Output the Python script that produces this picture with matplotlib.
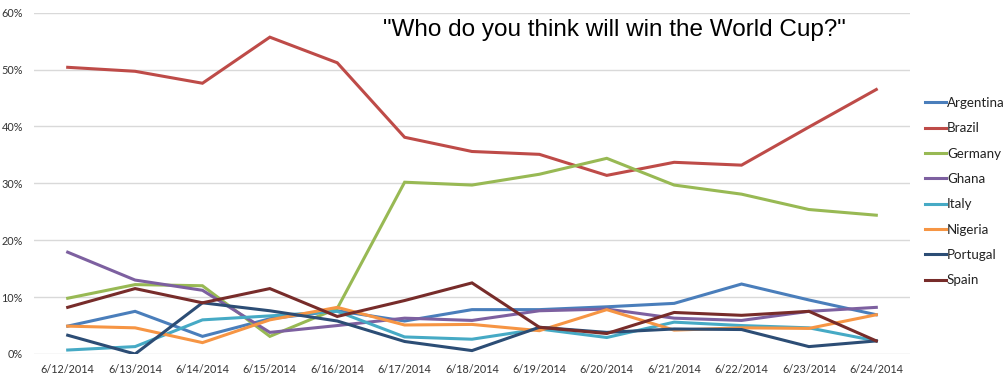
import matplotlib
matplotlib.use("Agg")
import matplotlib.pyplot as plt
from matplotlib.ticker import FuncFormatter

dates = ["6/12/2014", "6/13/2014", "6/14/2014", "6/15/2014", "6/16/2014",
         "6/17/2014", "6/18/2014", "6/19/2014", "6/20/2014", "6/21/2014",
         "6/22/2014", "6/23/2014", "6/24/2014"]

argentina = [4.9, 7.5, 3.1, 6.2, 7.6, 5.8, 7.8, 7.8, 8.3, 8.9, 12.3, 9.5, 6.9]
brazil    = [50.4, 49.7, 47.6, 55.7, 51.2, 38.1, 35.6, 35.1, 31.4, 33.7, 33.2, 39.9, 46.5]
germany   = [9.8, 12.2, 12.0, 3.1, 8.0, 30.2, 29.7, 31.6, 34.4, 29.7, 28.1, 25.4, 24.4]
ghana     = [17.9, 13.0, 11.2, 3.8, 5.0, 6.3, 5.9, 7.6, 7.9, 6.3, 5.9, 7.5, 8.2]
italy     = [0.7, 1.3, 6.0, 6.7, 7.5, 3.0, 2.6, 4.4, 2.9, 5.6, 5.0, 4.6, 2.3]
nigeria   = [4.9, 4.6, 2.0, 6.0, 8.2, 5.1, 5.2, 4.1, 7.8, 4.2, 4.6, 4.5, 6.9]
portugal  = [3.3, 0.0, 9.0, 7.6, 5.8, 2.2, 0.6, 4.7, 3.8, 4.4, 4.3, 1.3, 2.3]
spain     = [8.2, 11.5, 9.0, 11.5, 6.6, 9.4, 12.5, 4.7, 3.6, 7.3, 6.8, 7.5, 2.3]

series_names = ["Argentina", "Brazil", "Germany", "Ghana", "Italy", "Nigeria", "Portugal", "Spain"]
series_values = [argentina, brazil, germany, ghana, italy, nigeria, portugal, spain]
colors = ["#4A7EBB", "#BE4B48", "#98B954", "#7D60A0", "#46AAC5", "#F69544", "#2C4D75", "#772C2A"]

title = '"Who do you think will win the World Cup?"'
yticks = [0, 10, 20, 30, 40, 50, 60]

plt.rcParams['font.family'] = ['Lato', 'DejaVu Sans']

fig = plt.figure(figsize=(10.08, 3.80), dpi=100)
ax = fig.add_axes([34/1008, 1 - 354/380, (910 - 34)/1008, (354 - 12.7)/380])

x = list(range(len(dates)))
for name, vals, c in zip(series_names, series_values, colors):
    ax.plot(x, vals, color=c, lw=2.2, label=name, solid_joinstyle='miter', zorder=3)

ax.set_xlim(-0.5, len(dates) - 0.5)
ax.set_ylim(0, 60)
ax.set_yticks(yticks)
ax.yaxis.set_major_formatter(FuncFormatter(lambda v, p: f"{int(v)}%"))
ax.set_xticks(x)
ax.set_xticklabels(dates)
ax.grid(axis='y', color='#D9D9D9', lw=1.0, zorder=0)
ax.tick_params(axis='both', length=0, colors='#333333')
ax.tick_params(axis='y', labelsize=7.8, pad=8)
ax.tick_params(axis='x', labelsize=7.8, pad=7)
for s in ax.spines.values():
    s.set_visible(False)

fig.text(383/1008, 1 - 30/380, title, fontsize=17.5, family='Liberation Sans',
         ha='left', va='center', color='black')

leg = fig.legend(loc='upper left', bbox_to_anchor=(925/1008, 1 - 97/380),
                 frameon=False, fontsize=9.6, handlelength=1.6, handletextpad=0.05,
                 labelspacing=1.0, borderaxespad=0, borderpad=0)
for t in leg.get_texts():
    t.set_color('#222222')

fig.savefig("out.png", dpi=100)
